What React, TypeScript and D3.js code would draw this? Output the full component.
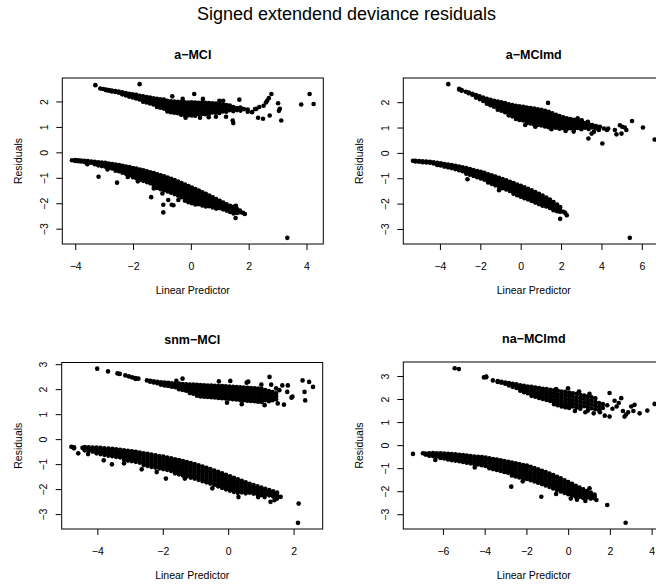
import React from "react";
import * as d3 from "d3";

// Each row: [linear predictor, residual, residual, ...]

const amciUpper = [
  [-3.15, 2.53], [-3.05, 2.51], [-2.95, 2.49, 2.46], [-2.85, 2.47, 2.44], [-2.75, 2.45, 2.41],
  [-2.63, 2.43, 2.39], [-2.51, 2.41, 2.36], [-2.39, 2.38, 2.33, 2.3], [-2.27, 2.35, 2.3, 2.26],
  [-2.15, 2.32, 2.27, 2.21], [-2.03, 2.3, 2.24, 2.18], [-1.91, 2.28, 2.21, 2.14], [-1.79, 2.24, 2.17, 2.1],
  [-1.67, 2.22, 2.14, 2.06, 2.01], [-1.55, 2.19, 2.11, 2.03, 1.98], [-1.43, 2.17, 2.09, 2.01, 1.94],
  [-1.31, 2.14, 2.06, 1.98, 1.9], [-1.19, 2.12, 2.03, 1.95, 1.86, 1.8], [-1.07, 2.1, 2.01, 1.92, 1.83, 1.77],
  [-0.95, 2.09, 2.0, 1.91, 1.82, 1.74], [-0.83, 2.05, 1.97, 1.88, 1.79, 1.7, 1.63],
  [-0.71, 2.03, 1.95, 1.86, 1.77, 1.68, 1.6], [-0.59, 2.02, 1.93, 1.84, 1.75, 1.66, 1.58],
  [-0.47, 2.01, 1.92, 1.83, 1.74, 1.65, 1.56], [-0.35, 2.0, 1.91, 1.82, 1.73, 1.64, 1.55, 1.5],
  [-0.23, 1.99, 1.9, 1.81, 1.72, 1.63, 1.54, 1.49], [-0.11, 1.98, 1.89, 1.8, 1.71, 1.62, 1.53, 1.48],
  [0.01, 1.99, 1.9, 1.81, 1.72, 1.63, 1.54, 1.47], [0.13, 1.98, 1.89, 1.8, 1.71, 1.62, 1.53, 1.46],
  [0.25, 1.97, 1.88, 1.79, 1.7, 1.61, 1.52], [0.37, 1.98, 1.89, 1.8, 1.71, 1.62, 1.53],
  [0.49, 1.97, 1.88, 1.79, 1.7, 1.61, 1.52], [0.61, 1.96, 1.87, 1.78, 1.69, 1.6, 1.53],
  [0.73, 1.95, 1.86, 1.77, 1.68, 1.59], [0.85, 1.94, 1.85, 1.76, 1.67, 1.58],
  [0.97, 1.93, 1.84, 1.75, 1.66, 1.57], [1.09, 1.9, 1.81, 1.72, 1.63], [1.21, 1.88, 1.79, 1.7, 1.62],
  [1.33, 1.86, 1.77, 1.68], [1.45, 1.8, 1.72, 1.64], [1.58, 1.76, 1.68], [1.7, 1.78, 1.66],
  [1.82, 1.72], [1.95, 1.7, 1.62],
];

const amciLower = [
  [-4.13, -0.29], [-4.02, -0.28, -0.32], [-3.92, -0.29, -0.33], [-3.82, -0.3, -0.34], [-3.7, -0.31, -0.36],
  [-3.58, -0.32, -0.37, -0.4], [-3.46, -0.34, -0.39], [-3.34, -0.35, -0.41, -0.45], [-3.22, -0.37, -0.43, -0.49],
  [-3.1, -0.38, -0.45, -0.52], [-2.98, -0.39, -0.46, -0.54], [-2.86, -0.42, -0.5, -0.58], [-2.74, -0.44, -0.53, -0.61],
  [-2.62, -0.46, -0.55, -0.64, -0.7], [-2.5, -0.48, -0.57, -0.66, -0.72], [-2.38, -0.51, -0.6, -0.7, -0.78],
  [-2.26, -0.54, -0.64, -0.74, -0.82], [-2.14, -0.56, -0.66, -0.77, -0.87], [-2.02, -0.6, -0.7, -0.8, -0.9, -0.96],
  [-1.9, -0.62, -0.72, -0.83, -0.93, -1.0], [-1.78, -0.66, -0.76, -0.87, -0.97, -1.06],
  [-1.66, -0.69, -0.8, -0.9, -1.01, -1.1], [-1.54, -0.72, -0.83, -0.94, -1.05, -1.15],
  [-1.42, -0.76, -0.87, -0.98, -1.09, -1.19], [-1.3, -0.79, -0.9, -1.01, -1.12, -1.23, -1.3],
  [-1.18, -0.84, -0.95, -1.06, -1.17, -1.28, -1.38], [-1.06, -0.88, -0.99, -1.1, -1.21, -1.32, -1.43],
  [-0.94, -0.92, -1.03, -1.14, -1.25, -1.36, -1.47], [-0.82, -0.97, -1.08, -1.19, -1.3, -1.41, -1.52],
  [-0.7, -1.02, -1.13, -1.24, -1.35, -1.46, -1.57], [-0.58, -1.07, -1.18, -1.29, -1.4, -1.51, -1.62],
  [-0.46, -1.13, -1.24, -1.35, -1.46, -1.57, -1.68], [-0.34, -1.19, -1.3, -1.41, -1.52, -1.63, -1.74],
  [-0.22, -1.25, -1.36, -1.47, -1.58, -1.69, -1.8, -1.88], [-0.1, -1.3, -1.41, -1.52, -1.63, -1.74, -1.85, -1.94],
  [0.02, -1.36, -1.47, -1.58, -1.69, -1.8, -1.9, -1.98], [0.14, -1.42, -1.53, -1.64, -1.75, -1.86, -1.96, -2.03],
  [0.26, -1.48, -1.59, -1.7, -1.81, -1.92, -2.02], [0.38, -1.55, -1.66, -1.77, -1.88, -1.98, -2.07],
  [0.5, -1.61, -1.72, -1.83, -1.94, -2.04, -2.11], [0.62, -1.68, -1.79, -1.9, -2.0, -2.1],
  [0.74, -1.75, -1.86, -1.96, -2.06, -2.15], [0.86, -1.82, -1.92, -2.02, -2.12, -2.19],
  [0.98, -1.88, -1.98, -2.08, -2.17], [1.1, -1.95, -2.05, -2.14, -2.22], [1.22, -2.02, -2.11, -2.2, -2.27],
  [1.34, -2.08, -2.17, -2.25, -2.32], [1.46, -2.14, -2.22, -2.3, -2.38], [1.58, -2.21, -2.28, -2.36],
  [1.68, -2.27, -2.33],
];

const amciScatter = [
  [-3.32, 2.66], [-1.79, 2.7], [-0.66, 2.22], [0.1, 2.31], [-0.3, 2.12], [0.4, 2.12], [0.97, 2.05], [1.1, 2.05],
  [1.66, 2.09], [1.43, 1.27], [1.45, 1.17], [0.3, 1.38], [0.6, 1.4], [1.2, 1.42], [-0.2, 1.38], [0.85, 1.42],
  [2.1, 1.6], [2.2, 1.72], [2.31, 1.38], [2.25, 1.73], [2.48, 1.34], [2.35, 1.8], [2.5, 1.85], [2.58, 1.98],
  [2.62, 2.05], [2.68, 2.15], [2.77, 2.31], [2.71, 1.47], [3.0, 1.95], [3.06, 1.73], [3.03, 1.65], [3.11, 1.27],
  [3.8, 1.9], [4.09, 2.31], [4.23, 1.92],
  [-3.21, -0.94], [-2.57, -1.17], [-2.2, -0.95], [-1.85, -1.12], [-1.39, -1.74], [-1.3, -1.4], [-1.0, -1.6],
  [-0.97, -2.04], [-0.97, -2.34], [-0.68, -2.04], [-0.62, -2.06], [-0.8, -1.85], [-0.45, -1.85],
  [1.53, -2.56], [1.79, -2.36], [1.85, -2.4], [1.54, -2.08], [1.45, -2.12], [3.32, -3.34], [-3.6, -0.45], [-2.9, -0.65],
];

const amcimdUpper = [
  [-3.61, 2.73], [-3.07, 2.55, 2.52], [-2.95, 2.5, 2.47], [-2.74, 2.43], [-2.6, 2.4, 2.37], [-2.42, 2.35, 2.31],
  [-2.24, 2.3, 2.25, 2.2], [-2.06, 2.25, 2.19, 2.14], [-1.88, 2.2, 2.14, 2.07], [-1.7, 2.15, 2.08, 2.01, 1.96],
  [-1.52, 2.11, 2.04, 1.96, 1.9], [-1.34, 2.07, 1.99, 1.91, 1.84], [-1.16, 2.04, 1.95, 1.87, 1.79, 1.72],
  [-0.98, 2.01, 1.92, 1.83, 1.75, 1.68], [-0.8, 1.98, 1.89, 1.8, 1.71, 1.62],
  [-0.62, 1.94, 1.85, 1.76, 1.67, 1.58, 1.5], [-0.44, 1.91, 1.82, 1.73, 1.64, 1.55, 1.46],
  [-0.26, 1.88, 1.79, 1.7, 1.61, 1.52, 1.43, 1.36], [-0.08, 1.86, 1.77, 1.68, 1.59, 1.5, 1.41, 1.32],
  [0.1, 1.84, 1.75, 1.66, 1.57, 1.48, 1.39, 1.3], [0.28, 1.81, 1.72, 1.63, 1.54, 1.45, 1.36, 1.27, 1.2],
  [0.46, 1.79, 1.7, 1.61, 1.52, 1.43, 1.34, 1.25, 1.18], [0.64, 1.77, 1.68, 1.59, 1.5, 1.41, 1.32, 1.23, 1.14],
  [0.82, 1.74, 1.65, 1.56, 1.47, 1.38, 1.29, 1.2, 1.12], [1.0, 1.72, 1.63, 1.54, 1.45, 1.36, 1.27, 1.18, 1.1],
  [1.18, 1.68, 1.59, 1.5, 1.41, 1.32, 1.23, 1.14, 1.06], [1.36, 1.64, 1.55, 1.46, 1.37, 1.28, 1.19, 1.1, 1.03],
  [1.54, 1.58, 1.49, 1.4, 1.31, 1.22, 1.13, 1.05], [1.72, 1.52, 1.44, 1.36, 1.27, 1.18, 1.09, 1.01],
  [1.9, 1.47, 1.39, 1.31, 1.22, 1.13, 1.04, 0.97], [2.08, 1.42, 1.34, 1.26, 1.17, 1.08, 0.99],
  [2.26, 1.38, 1.3, 1.21, 1.12, 1.03, 0.96], [2.44, 1.35, 1.26, 1.17, 1.08, 0.99],
  [2.62, 1.32, 1.22, 1.13, 1.04, 0.96], [2.8, 1.28, 1.18, 1.09, 1.0], [2.98, 1.25, 1.14, 1.05, 0.95],
  [3.16, 1.2, 1.1, 1.01], [3.34, 1.16, 1.06, 0.96], [3.52, 1.12, 1.02], [3.7, 1.08, 0.98],
];

const amcimdLower = [
  [-5.36, -0.29], [-5.24, -0.29, -0.32], [-5.06, -0.3, -0.33], [-4.88, -0.31, -0.35], [-4.7, -0.32, -0.36],
  [-4.52, -0.33, -0.37], [-4.34, -0.35, -0.4], [-4.16, -0.37, -0.42, -0.46], [-3.98, -0.39, -0.44, -0.48],
  [-3.8, -0.42, -0.47, -0.52], [-3.62, -0.44, -0.5, -0.55], [-3.44, -0.46, -0.52, -0.58], [-3.26, -0.49, -0.55, -0.62],
  [-3.08, -0.52, -0.59, -0.66], [-2.9, -0.55, -0.62, -0.7], [-2.72, -0.58, -0.66, -0.74, -0.8],
  [-2.54, -0.62, -0.7, -0.78, -0.84], [-2.36, -0.66, -0.74, -0.82, -0.89], [-2.18, -0.7, -0.78, -0.86, -0.94],
  [-2.0, -0.73, -0.82, -0.91, -0.99], [-1.82, -0.77, -0.86, -0.95, -1.04], [-1.64, -0.82, -0.91, -1.0, -1.09, -1.15],
  [-1.46, -0.86, -0.95, -1.04, -1.13, -1.2], [-1.28, -0.91, -1.0, -1.09, -1.18, -1.26],
  [-1.1, -0.96, -1.05, -1.14, -1.23, -1.32], [-0.92, -1.01, -1.1, -1.19, -1.28, -1.37],
  [-0.74, -1.06, -1.15, -1.24, -1.33, -1.42], [-0.56, -1.12, -1.21, -1.3, -1.39, -1.48],
  [-0.38, -1.17, -1.26, -1.35, -1.44, -1.53, -1.59], [-0.2, -1.23, -1.32, -1.41, -1.5, -1.59, -1.65],
  [-0.02, -1.28, -1.37, -1.46, -1.55, -1.64, -1.71], [0.16, -1.34, -1.43, -1.52, -1.61, -1.7, -1.77],
  [0.34, -1.4, -1.49, -1.58, -1.67, -1.76, -1.82], [0.52, -1.46, -1.55, -1.64, -1.73, -1.82, -1.88],
  [0.7, -1.52, -1.61, -1.7, -1.79, -1.88, -1.94], [0.88, -1.59, -1.68, -1.77, -1.86, -1.95, -2.0],
  [1.06, -1.66, -1.75, -1.84, -1.93, -2.02, -2.06], [1.24, -1.74, -1.83, -1.92, -2.01, -2.09],
  [1.42, -1.82, -1.91, -2.0, -2.09, -2.15], [1.6, -1.92, -2.01, -2.1, -2.18, -2.24],
  [1.78, -2.02, -2.11, -2.2, -2.28], [1.93, -2.12, -2.21, -2.3],
];

const amcimdScatter = [
  [1.33, 1.99], [2.8, 1.38], [3.33, 0.59], [3.49, 0.78], [3.6, 0.85], [3.9, 1.05], [3.85, 0.92], [4.02, 0.39],
  [4.1, 0.98], [4.25, 0.92], [4.31, 0.98], [4.64, 0.92], [4.72, 0.75], [4.89, 1.11], [4.97, 0.78], [5.0, 1.05],
  [5.13, 1.02], [5.21, 0.92], [5.49, 1.28], [6.03, 1.02], [6.61, 0.55], [0.2, 1.12], [0.7, 1.05], [1.5, 0.95],
  [2.2, 0.88], [2.6, 0.86], [3.0, 1.3], [3.3, 1.25],
  [1.93, -2.58], [2.18, -2.35], [2.26, -2.44], [2.1, -2.3], [5.38, -3.33], [-2.66, -1.02], [-1.1, -1.45],
];

const snmUpper = [
  [-4.02, 2.84], [-3.69, 2.73], [-3.4, 2.65], [-3.33, 2.63], [-3.16, 2.57], [-3.05, 2.53], [-2.95, 2.49],
  [-2.85, 2.46, 2.43], [-2.76, 2.44], [-2.5, 2.37], [-2.4, 2.35, 2.32], [-2.29, 2.33, 2.29], [-2.18, 2.31, 2.26],
  [-2.07, 2.29, 2.24, 2.2], [-1.96, 2.28, 2.22, 2.17], [-1.85, 2.27, 2.21, 2.15], [-1.74, 2.25, 2.19, 2.12],
  [-1.63, 2.24, 2.17, 2.1], [-1.52, 2.24, 2.16, 2.08, 2.02], [-1.41, 2.22, 2.14, 2.06, 1.99],
  [-1.3, 2.21, 2.13, 2.04, 1.96], [-1.19, 2.2, 2.12, 2.03, 1.94, 1.87], [-1.08, 2.2, 2.11, 2.02, 1.93, 1.84],
  [-0.97, 2.19, 2.1, 2.01, 1.92, 1.83, 1.76], [-0.86, 2.18, 2.09, 2.0, 1.91, 1.82, 1.73],
  [-0.75, 2.17, 2.08, 1.99, 1.9, 1.81, 1.72], [-0.64, 2.16, 2.07, 1.98, 1.89, 1.8, 1.71],
  [-0.53, 2.16, 2.06, 1.96, 1.87, 1.78, 1.7], [-0.42, 2.15, 2.05, 1.95, 1.86, 1.77, 1.69],
  [-0.31, 2.14, 2.04, 1.94, 1.85, 1.76, 1.67], [-0.2, 2.14, 2.04, 1.94, 1.84, 1.74, 1.66],
  [-0.09, 2.13, 2.03, 1.93, 1.83, 1.73, 1.65], [0.02, 2.12, 2.02, 1.92, 1.82, 1.72, 1.64],
  [0.13, 2.11, 2.01, 1.91, 1.81, 1.71, 1.62], [0.24, 2.1, 2.0, 1.9, 1.8, 1.7, 1.61],
  [0.35, 2.09, 1.99, 1.89, 1.79, 1.69, 1.59], [0.46, 2.08, 1.98, 1.88, 1.78, 1.68, 1.58],
  [0.57, 2.07, 1.97, 1.87, 1.77, 1.67, 1.56], [0.68, 2.06, 1.96, 1.86, 1.76, 1.66, 1.55],
  [0.79, 2.05, 1.95, 1.85, 1.75, 1.65, 1.54], [0.9, 2.04, 1.93, 1.83, 1.73, 1.63, 1.52],
  [1.01, 2.02, 1.91, 1.81, 1.71, 1.61, 1.51], [1.12, 1.98, 1.88, 1.78, 1.68, 1.58],
  [1.23, 1.94, 1.84, 1.74, 1.64, 1.54], [1.34, 1.9, 1.78, 1.68, 1.58], [1.45, 1.85, 1.74, 1.62],
];

const snmLower = [
  [-4.81, -0.29], [-4.73, -0.31, -0.35], [-4.47, -0.33], [-4.4, -0.3, -0.37, -0.43], [-4.28, -0.31, -0.38, -0.46],
  [-4.16, -0.32, -0.4, -0.48], [-4.04, -0.32, -0.41, -0.5, -0.55], [-3.92, -0.33, -0.42, -0.51, -0.58],
  [-3.8, -0.35, -0.44, -0.53, -0.61], [-3.68, -0.36, -0.45, -0.55, -0.64], [-3.56, -0.37, -0.47, -0.57, -0.66],
  [-3.44, -0.39, -0.49, -0.59, -0.69], [-3.32, -0.41, -0.51, -0.61, -0.71], [-3.2, -0.43, -0.53, -0.63, -0.73, -0.81],
  [-3.08, -0.45, -0.55, -0.65, -0.75, -0.84], [-2.96, -0.47, -0.57, -0.67, -0.77, -0.86],
  [-2.84, -0.49, -0.59, -0.69, -0.79, -0.89], [-2.72, -0.52, -0.62, -0.72, -0.82, -0.92],
  [-2.6, -0.55, -0.65, -0.75, -0.85, -0.95, -1.02], [-2.48, -0.57, -0.67, -0.77, -0.87, -0.97, -1.05],
  [-2.36, -0.6, -0.7, -0.8, -0.9, -1.0, -1.09], [-2.24, -0.63, -0.73, -0.83, -0.93, -1.03, -1.12],
  [-2.12, -0.66, -0.76, -0.86, -0.96, -1.06, -1.15], [-2.0, -0.68, -0.78, -0.88, -0.98, -1.08, -1.18],
  [-1.88, -0.72, -0.82, -0.92, -1.02, -1.12, -1.21], [-1.76, -0.75, -0.85, -0.95, -1.05, -1.15, -1.25],
  [-1.64, -0.79, -0.89, -0.99, -1.09, -1.19, -1.29, -1.35], [-1.52, -0.82, -0.92, -1.02, -1.12, -1.22, -1.32, -1.39],
  [-1.4, -0.86, -0.96, -1.06, -1.16, -1.26, -1.36, -1.43], [-1.28, -0.9, -1.0, -1.1, -1.2, -1.3, -1.4, -1.47],
  [-1.16, -0.94, -1.04, -1.14, -1.24, -1.34, -1.44, -1.52], [-1.04, -0.98, -1.08, -1.18, -1.28, -1.38, -1.48, -1.56],
  [-0.92, -1.03, -1.13, -1.23, -1.33, -1.43, -1.53, -1.61], [-0.8, -1.08, -1.18, -1.28, -1.38, -1.48, -1.58, -1.66],
  [-0.68, -1.13, -1.23, -1.33, -1.43, -1.53, -1.63, -1.71], [-0.56, -1.18, -1.28, -1.38, -1.48, -1.58, -1.68, -1.76],
  [-0.44, -1.24, -1.34, -1.44, -1.54, -1.64, -1.74, -1.81], [-0.32, -1.29, -1.39, -1.49, -1.59, -1.69, -1.79, -1.87],
  [-0.2, -1.35, -1.45, -1.55, -1.65, -1.75, -1.85, -1.93], [-0.08, -1.41, -1.51, -1.61, -1.71, -1.81, -1.91, -1.99],
  [0.04, -1.47, -1.57, -1.67, -1.77, -1.87, -1.97, -2.04], [0.16, -1.53, -1.63, -1.73, -1.83, -1.93, -2.02, -2.09],
  [0.28, -1.59, -1.69, -1.79, -1.89, -1.98, -2.07, -2.13], [0.4, -1.65, -1.75, -1.85, -1.94, -2.03, -2.11],
  [0.52, -1.71, -1.81, -1.9, -1.99, -2.08, -2.15], [0.64, -1.77, -1.86, -1.95, -2.04, -2.12],
  [0.76, -1.82, -1.91, -2.0, -2.08, -2.16], [0.88, -1.87, -1.96, -2.04, -2.12, -2.19],
  [1.0, -1.92, -2.0, -2.08, -2.16, -2.22], [1.12, -1.97, -2.05, -2.12, -2.19], [1.24, -2.02, -2.09, -2.16, -2.23],
  [1.36, -2.07, -2.13, -2.2, -2.27], [1.48, -2.12, -2.18, -2.25], [1.59, -2.29],
];

const snmScatter = [
  [-1.41, 2.44], [-0.3, 2.33], [0.05, 2.35], [0.55, 2.28], [0.6, 2.32], [1.25, 2.51], [1.3, 2.2], [1.64, 2.17],
  [1.81, 2.17], [1.79, 1.91], [1.92, 1.68], [1.95, 1.72], [1.69, 1.4], [1.5, 1.45], [1.1, 1.38], [0.4, 1.42],
  [-0.05, 1.48], [2.26, 2.37], [2.32, 1.91], [2.34, 1.57], [2.46, 2.31], [2.58, 2.11], [1.55, 1.98], [1.45, 2.05],
  [1.0, 2.2], [-1.6, 2.35],
  [1.28, -2.49], [1.48, -2.36], [1.4, -2.42], [2.14, -2.56], [2.12, -3.33], [-3.82, -0.83], [-3.57, -0.99],
  [-2.66, -1.19], [-1.92, -1.56], [-1.34, -1.56], [-2.2, -1.3], [-0.5, -1.95], [0.3, -2.3], [0.9, -2.3],
  [1.1, -2.3], [-4.6, -0.55], [-4.3, -0.58], [-3.2, -0.95],
];

const namdUpper = [
  [-5.46, 3.36], [-5.26, 3.32], [-4.06, 2.96], [-3.95, 3.0, 2.97], [-3.63, 2.83], [-3.4, 2.8, 2.76],
  [-3.22, 2.77, 2.73], [-3.04, 2.74, 2.69], [-2.86, 2.72, 2.66, 2.61], [-2.68, 2.68, 2.61, 2.55],
  [-2.5, 2.66, 2.58, 2.5], [-2.32, 2.62, 2.54, 2.45, 2.38], [-2.14, 2.6, 2.5, 2.41, 2.32],
  [-1.96, 2.56, 2.46, 2.37, 2.27], [-1.78, 2.55, 2.44, 2.34, 2.24, 2.16], [-1.6, 2.52, 2.41, 2.31, 2.2, 2.12],
  [-1.42, 2.5, 2.38, 2.27, 2.16, 2.07], [-1.24, 2.47, 2.35, 2.24, 2.12, 2.02], [-1.06, 2.45, 2.33, 2.21, 2.09, 1.98],
  [-0.88, 2.42, 2.3, 2.17, 2.05, 1.94], [-0.7, 2.4, 2.27, 2.14, 2.01, 1.89, 1.8],
  [-0.52, 2.38, 2.24, 2.11, 1.98, 1.85, 1.75], [-0.34, 2.35, 2.21, 2.07, 1.94, 1.81, 1.7],
  [-0.16, 2.33, 2.19, 2.04, 1.9, 1.77, 1.66], [0.02, 2.3, 2.16, 2.01, 1.87, 1.74, 1.63],
  [0.2, 2.27, 2.12, 1.97, 1.83, 1.7], [0.38, 2.25, 2.09, 1.94, 1.79, 1.65], [0.56, 2.21, 2.06, 1.9, 1.75, 1.6],
  [0.74, 2.17, 2.02, 1.86, 1.71], [0.92, 2.14, 1.98, 1.82, 1.67, 1.52], [1.1, 2.1, 1.94, 1.78, 1.62],
  [1.28, 2.05, 1.89, 1.73, 1.58], [1.46, 1.85, 1.68, 1.52], [1.64, 1.8, 1.63],
];

const namdLower = [
  [-7.46, -0.36], [-6.98, -0.33], [-6.86, -0.34, -0.39], [-6.68, -0.33, -0.38, -0.44], [-6.5, -0.32, -0.38, -0.45],
  [-6.32, -0.33, -0.4, -0.47], [-6.14, -0.33, -0.41, -0.49, -0.54], [-5.96, -0.34, -0.42, -0.5, -0.56],
  [-5.78, -0.35, -0.44, -0.53, -0.6], [-5.6, -0.37, -0.46, -0.55, -0.63], [-5.42, -0.38, -0.48, -0.57, -0.65],
  [-5.24, -0.4, -0.5, -0.6, -0.68], [-5.06, -0.41, -0.51, -0.62, -0.71], [-4.88, -0.43, -0.53, -0.64, -0.74],
  [-4.7, -0.45, -0.56, -0.67, -0.77], [-4.52, -0.47, -0.58, -0.69, -0.8], [-4.34, -0.49, -0.6, -0.71, -0.82],
  [-4.16, -0.5, -0.62, -0.74, -0.85], [-3.98, -0.52, -0.64, -0.76, -0.88], [-3.8, -0.55, -0.67, -0.79, -0.91, -0.98],
  [-3.62, -0.58, -0.7, -0.82, -0.94, -1.02], [-3.44, -0.61, -0.73, -0.85, -0.97, -1.06],
  [-3.26, -0.64, -0.76, -0.88, -1.0, -1.1], [-3.08, -0.67, -0.79, -0.91, -1.03, -1.14],
  [-2.9, -0.7, -0.82, -0.94, -1.06, -1.18], [-2.72, -0.74, -0.86, -0.98, -1.1, -1.22, -1.3],
  [-2.54, -0.77, -0.89, -1.01, -1.13, -1.25, -1.34], [-2.36, -0.8, -0.92, -1.04, -1.16, -1.28, -1.38],
  [-2.18, -0.84, -0.96, -1.08, -1.2, -1.32, -1.42], [-2.0, -0.87, -0.99, -1.11, -1.23, -1.35, -1.45],
  [-1.82, -0.92, -1.04, -1.16, -1.28, -1.4, -1.5], [-1.64, -0.97, -1.09, -1.21, -1.33, -1.45, -1.56],
  [-1.46, -1.03, -1.15, -1.27, -1.39, -1.51, -1.61], [-1.28, -1.09, -1.21, -1.33, -1.45, -1.57, -1.67],
  [-1.1, -1.15, -1.27, -1.39, -1.51, -1.63, -1.73], [-0.92, -1.21, -1.33, -1.45, -1.57, -1.69, -1.79],
  [-0.74, -1.28, -1.4, -1.52, -1.64, -1.76, -1.86], [-0.56, -1.35, -1.47, -1.59, -1.71, -1.83, -1.93],
  [-0.38, -1.42, -1.54, -1.66, -1.78, -1.9, -1.99], [-0.2, -1.5, -1.62, -1.74, -1.86, -1.97, -2.05],
  [-0.02, -1.58, -1.7, -1.82, -1.93, -2.04, -2.11], [0.16, -1.66, -1.78, -1.89, -2.0, -2.1, -2.17],
  [0.34, -1.74, -1.85, -1.96, -2.06, -2.16, -2.22], [0.52, -1.82, -1.93, -2.03, -2.13, -2.22],
  [0.7, -1.9, -2.0, -2.1, -2.19, -2.27], [0.88, -1.97, -2.07, -2.16, -2.25], [1.06, -2.04, -2.13, -2.22, -2.3],
  [1.24, -2.12, -2.2, -2.28], [1.33, -2.36],
];

const namdScatter = [
  [-0.03, 2.49], [-0.6, 2.45], [0.5, 2.35], [1.0, 2.25], [1.2, 1.4], [1.5, 1.45], [1.73, 1.3], [1.96, 2.28],
  [1.96, 1.26], [1.85, 1.75], [2.1, 1.6], [2.3, 1.7], [2.52, 2.06], [2.4, 1.85], [2.6, 1.5], [2.68, 1.26],
  [2.75, 1.35], [2.85, 1.45], [3.0, 1.7], [3.16, 1.77], [3.1, 1.5], [3.4, 1.4], [3.77, 1.52], [4.12, 1.81],
  [2.2, 1.95], [0.8, 1.45], [0.3, 1.5],
  [1.85, -2.58], [2.73, -3.35], [-6.39, -0.62], [-2.75, -1.78], [-1.31, -2.22], [-0.6, -2.1], [0.4, -2.35],
  [-2.2, -1.55], [-4.5, -0.95], [0.1, -2.3], [0.8, -2.4], [1.0, -1.85],
];

const titles = ["a\u2212MCI", "a\u2212MCImd", "snm\u2212MCI", "na\u2212MCImd"];
const xTickValues = [[-4, -2, 0, 2, 4], [-4, -2, 0, 2, 4, 6], [-4, -2, 0, 2], [-6, -4, -2, 0, 2, 4]];
const yTickValues = [[-3, -2, -1, 0, 1, 2], [-3, -2, -1, 0, 1, 2], [-3, -2, -1, 0, 1, 2, 3], [-3, -2, -1, 0, 1, 2, 3]];
const panelRows = [
  [amciUpper, amciLower, amciScatter],
  [amcimdUpper, amcimdLower, amcimdScatter],
  [snmUpper, snmLower, snmScatter],
  [namdUpper, namdLower, namdScatter],
];

// plot regions, in page pixels
const layout = [
  { left: 62.3, top: 78, bottom: 244 },
  { left: 403.3, top: 78, bottom: 244 },
  { left: 61.7, top: 362.5, bottom: 529 },
  { left: 403.3, top: 362, bottom: 529 },
];
const PLOT_W = 261;
const DOT_R = 2.3;
const FONT = "'Liberation Sans', Arial, Helvetica, sans-serif";

const minus = (v: number) => (v < 0 ? "\u2212" + Math.abs(v) : String(v));

// R style axis range: data extent widened by 4% each side
const padRange = (vals: number[]) => {
  const [lo, hi] = d3.extent(vals) as [number, number];
  const p = (hi - lo) * 0.04;
  return [lo - p, hi + p];
};

function Panel({ i }: { i: number }) {
  const { left, top, bottom } = layout[i];
  const right = left + PLOT_W;
  const pts: [number, number][] = [];
  panelRows[i].forEach((rows) =>
    rows.forEach(([px, ...ys]) => ys.forEach((py) => pts.push([px, py])))
  );

  const x = d3.scaleLinear().domain(padRange(pts.map((d) => d[0]))).range([left, right]);
  const y = d3.scaleLinear().domain(padRange(pts.map((d) => d[1]))).range([bottom, top]);
  const clipId = `plot-clip-${i}`;
  const tick = 6;

  return (
    <g>
      <defs>
        <clipPath id={clipId}>
          <rect x={left} y={top} width={PLOT_W} height={bottom - top} />
        </clipPath>
      </defs>
      <text x={(left + right) / 2} y={top - 19} textAnchor="middle" fontWeight="bold" fontSize={12.5}>
        {titles[i]}
      </text>
      <g clipPath={`url(#${clipId})`}>
        {pts.map((d, k) => (
          <circle key={k} cx={x(d[0])} cy={y(d[1])} r={DOT_R} fill="#000" />
        ))}
      </g>
      <rect x={left} y={top} width={PLOT_W} height={bottom - top} fill="none" stroke="#000" strokeWidth={1} />
      {xTickValues[i].map((v) => (
        <g key={"x" + v}>
          <line x1={x(v)} x2={x(v)} y1={bottom} y2={bottom + tick} stroke="#000" />
          <text x={x(v)} y={bottom + 26} textAnchor="middle" fontSize={10.5}>
            {minus(v)}
          </text>
        </g>
      ))}
      {yTickValues[i].map((v) => (
        <g key={"y" + v}>
          <line x1={left - tick} x2={left} y1={y(v)} y2={y(v)} stroke="#000" />
          <text
            x={left - 14.3}
            y={y(v)}
            textAnchor="middle"
            fontSize={10.5}
            transform={`rotate(-90, ${left - 14.3}, ${y(v)})`}
          >
            {minus(v)}
          </text>
        </g>
      ))}
      <text x={(left + right) / 2} y={bottom + 49.5} textAnchor="middle" fontSize={10.5}>
        Linear Predictor
      </text>
      <text
        x={left - 40}
        y={(top + bottom) / 2}
        textAnchor="middle"
        fontSize={10.5}
        transform={`rotate(-90, ${left - 40}, ${(top + bottom) / 2})`}
      >
        Residuals
      </text>
    </g>
  );
}

export default function App() {
  return (
    <svg
      width={656}
      height={584}
      style={{ position: "absolute", left: 0, top: 0, background: "#fff" }}
      fontFamily={FONT}
    >
      <rect width={656} height={584} fill="#fff" />
      <text x={346.5} y={20} textAnchor="middle" fontSize={18}>
        Signed extendend deviance residuals
      </text>
      {[0, 1, 2, 3].map((i) => (
        <Panel key={i} i={i} />
      ))}
    </svg>
  );
}
